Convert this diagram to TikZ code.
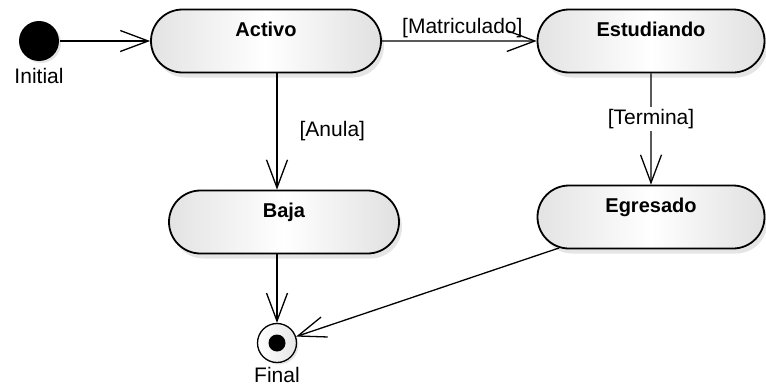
\documentclass[tikz,border=0pt]{standalone}
\usepackage{fontspec}
\setmainfont{Liberation Sans}
\usetikzlibrary{positioning,shapes.misc,arrows.meta,shadows}

\begin{document}
\begin{tikzpicture}[x=1pt, y=-1pt, line width=1.3pt,
  every node/.style={font=\fontsize{21}{25}\selectfont, inner sep=2pt},
  state/.style={rounded rectangle, draw, line width=1.8pt, minimum width=234pt, minimum height=63pt,
    left color=gray!22, right color=gray!24, middle color=white,
    drop shadow={shadow xshift=3pt, shadow yshift=-5pt, fill=gray!40},
    font=\fontsize{20}{24}\selectfont\bfseries, text height=14pt, text depth=24pt},
  trans/.style={-{Straight Barb[length=28pt, width=21pt]}}]
\useasboundingbox (0,0) rectangle (766,391);
\node[state] (act) at (266,41) {Activo};
\node[state, minimum width=231pt] (est) at (651,41) {Estudiando};
\node[state] (baj) at (284,222) {Baja};
\node[state, minimum width=231pt] (egr) at (651,217) {Egresado};
\node[circle, fill=black, minimum size=40pt, inner sep=0pt,
  drop shadow={shadow xshift=2pt, shadow yshift=-2pt, fill=gray!40}] (ini) at (39,41) {};
\node[circle, draw, inner sep=0pt, minimum size=39pt, left color=white, right color=gray!20,
  drop shadow={shadow xshift=2pt, shadow yshift=-2pt, fill=gray!40}] (fin) at (277,343) {};
\node[circle, fill=black, inner sep=0pt, minimum size=17pt] (fin-dot) at (fin) {};
\node[below=4pt of ini] (ini-lbl) {Initial};
\node[below=2pt of fin, inner sep=1pt] (fin-lbl) {Final};
\draw[trans] (ini) -- (act);
\draw[trans] (act) -- node[above, pos=.52] {[Matriculado]} (est);
\draw[trans] (act.south -| fin) -- node[right=20pt] {[Anula]} (baj.north -| fin);
\draw[trans] (est) -- node[pos=.41, fill=white] {[Termina]} (egr);
\draw[trans] (baj.south -| fin) -- (fin);
\draw[trans] (egr) -- (fin);
\end{tikzpicture}
\end{document}
